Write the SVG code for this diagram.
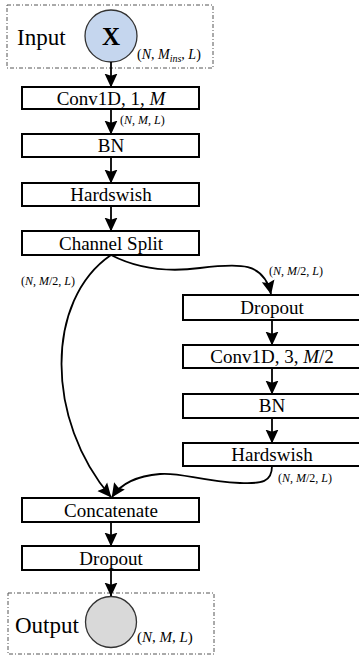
<svg xmlns="http://www.w3.org/2000/svg" width="359" height="657" viewBox="0 0 359 657">
<style>
.box{fill:#fff;stroke:#000;stroke-width:2}
.dash{fill:none;stroke:#555;stroke-width:1;stroke-dasharray:4,2,1,2}
text{font-family:'Liberation Serif',serif;fill:#000}
.t{font-size:19px;text-anchor:middle}
.big{font-size:23px}
.s{font-size:12px}
.c{fill:none;stroke:#000;stroke-width:1.8}
</style>
<defs>
<marker id="ah" markerUnits="userSpaceOnUse" markerWidth="14" markerHeight="14" viewBox="0 0 13 12" refX="12.5" refY="6" orient="auto">
<path d="M0,0 L13,6 L0,12 L2,6 Z" fill="#000"/>
</marker>
</defs>

<g id="input">
<rect class="dash" x="7" y="5" width="206" height="63"/>
<text class="big" x="17" y="45">Input</text>
<circle cx="111" cy="36" r="26" fill="#c5d6ee" stroke="#333" stroke-width="1.3"/>
<text x="111" y="45" font-weight="bold" font-size="25" text-anchor="middle">X</text>
<text x="137" y="59" font-size="14">(<tspan font-style="italic">N</tspan>, <tspan font-style="italic">M</tspan><tspan font-style="italic" font-size="10" dy="3">ins</tspan><tspan dy="-3">, </tspan><tspan font-style="italic">L</tspan>)</text>
</g>

<g id="conv1">
<rect class="box" x="22" y="87" width="177" height="22"/>
<text class="t" x="111" y="105">Conv1D, 1, <tspan font-style="italic">M</tspan></text>
</g>
<g id="bn1">
<rect class="box" x="22" y="134" width="177" height="23"/>
<text class="t" x="111" y="152">BN</text>
</g>
<g id="hs1">
<rect class="box" x="22" y="183" width="177" height="23"/>
<text class="t" x="111" y="201">Hardswish</text>
</g>
<g id="split">
<rect class="box" x="22" y="231" width="177" height="24"/>
<text class="t" x="111" y="250">Channel Split</text>
</g>

<g id="drop1">
<rect class="box" x="183" y="295" width="180" height="25"/>
<text class="t" x="272" y="314">Dropout</text>
</g>
<g id="conv3">
<rect class="box" x="183" y="345" width="180" height="23"/>
<text class="t" x="272" y="363">Conv1D, 3, <tspan font-style="italic">M</tspan>/2</text>
</g>
<g id="bn2">
<rect class="box" x="183" y="394" width="180" height="24"/>
<text class="t" x="272" y="412">BN</text>
</g>
<g id="hs2">
<rect class="box" x="183" y="443" width="180" height="23"/>
<text class="t" x="272" y="461">Hardswish</text>
</g>

<g id="concat">
<rect class="box" x="22" y="498" width="177" height="24"/>
<text class="t" x="111" y="517">Concatenate</text>
</g>
<g id="drop2">
<rect class="box" x="22" y="546" width="177" height="24"/>
<text class="t" x="111" y="565">Dropout</text>
</g>

<g id="output">
<rect class="dash" x="8" y="593" width="206" height="61"/>
<text class="big" x="15" y="633">Output</text>
<circle cx="111" cy="622" r="25.5" fill="#d9d9d9" stroke="#333" stroke-width="1.3"/>
<text x="137" y="642" font-size="15">(<tspan font-style="italic">N</tspan>, <tspan font-style="italic">M</tspan>, <tspan font-style="italic">L</tspan>)</text>
</g>

<g id="connectors">
<line class="c" x1="111" y1="62" x2="111" y2="87" marker-end="url(#ah)"/>
<line class="c" x1="111" y1="109" x2="111" y2="134" marker-end="url(#ah)"/>
<line class="c" x1="111" y1="157" x2="111" y2="183" marker-end="url(#ah)"/>
<line class="c" x1="111" y1="206" x2="111" y2="231" marker-end="url(#ah)"/>
<path class="c" d="M111,255 C140,270 170,272 200,268 C240,263 264,262 271,294" marker-end="url(#ah)"/>
<path class="c" d="M111,255 C45,300 45,420 111,497" marker-end="url(#ah)"/>
<line class="c" x1="272" y1="320" x2="272" y2="345" marker-end="url(#ah)"/>
<line class="c" x1="272" y1="368" x2="272" y2="394" marker-end="url(#ah)"/>
<line class="c" x1="272" y1="418" x2="272" y2="443" marker-end="url(#ah)"/>
<path class="c" d="M272,466 C272,482 262,484 240,483 C200,481 180,472 160,474 C135,476 120,485 112,497" marker-end="url(#ah)"/>
<line class="c" x1="111" y1="522" x2="111" y2="546" marker-end="url(#ah)"/>
<line class="c" x1="111" y1="570" x2="111" y2="596" marker-end="url(#ah)"/>
<text class="s" x="120" y="124" font-size="11.5">(<tspan font-style="italic">N</tspan>, <tspan font-style="italic">M</tspan>, <tspan font-style="italic">L</tspan>)</text>
<text class="s" x="21" y="285">(<tspan font-style="italic">N</tspan>, <tspan font-style="italic">M</tspan>/2, <tspan font-style="italic">L</tspan>)</text>
<text class="s" x="269" y="275">(<tspan font-style="italic">N</tspan>, <tspan font-style="italic">M</tspan>/2, <tspan font-style="italic">L</tspan>)</text>
<text class="s" x="278" y="482">(<tspan font-style="italic">N</tspan>, <tspan font-style="italic">M</tspan>/2, <tspan font-style="italic">L</tspan>)</text>
</g>
</svg>
